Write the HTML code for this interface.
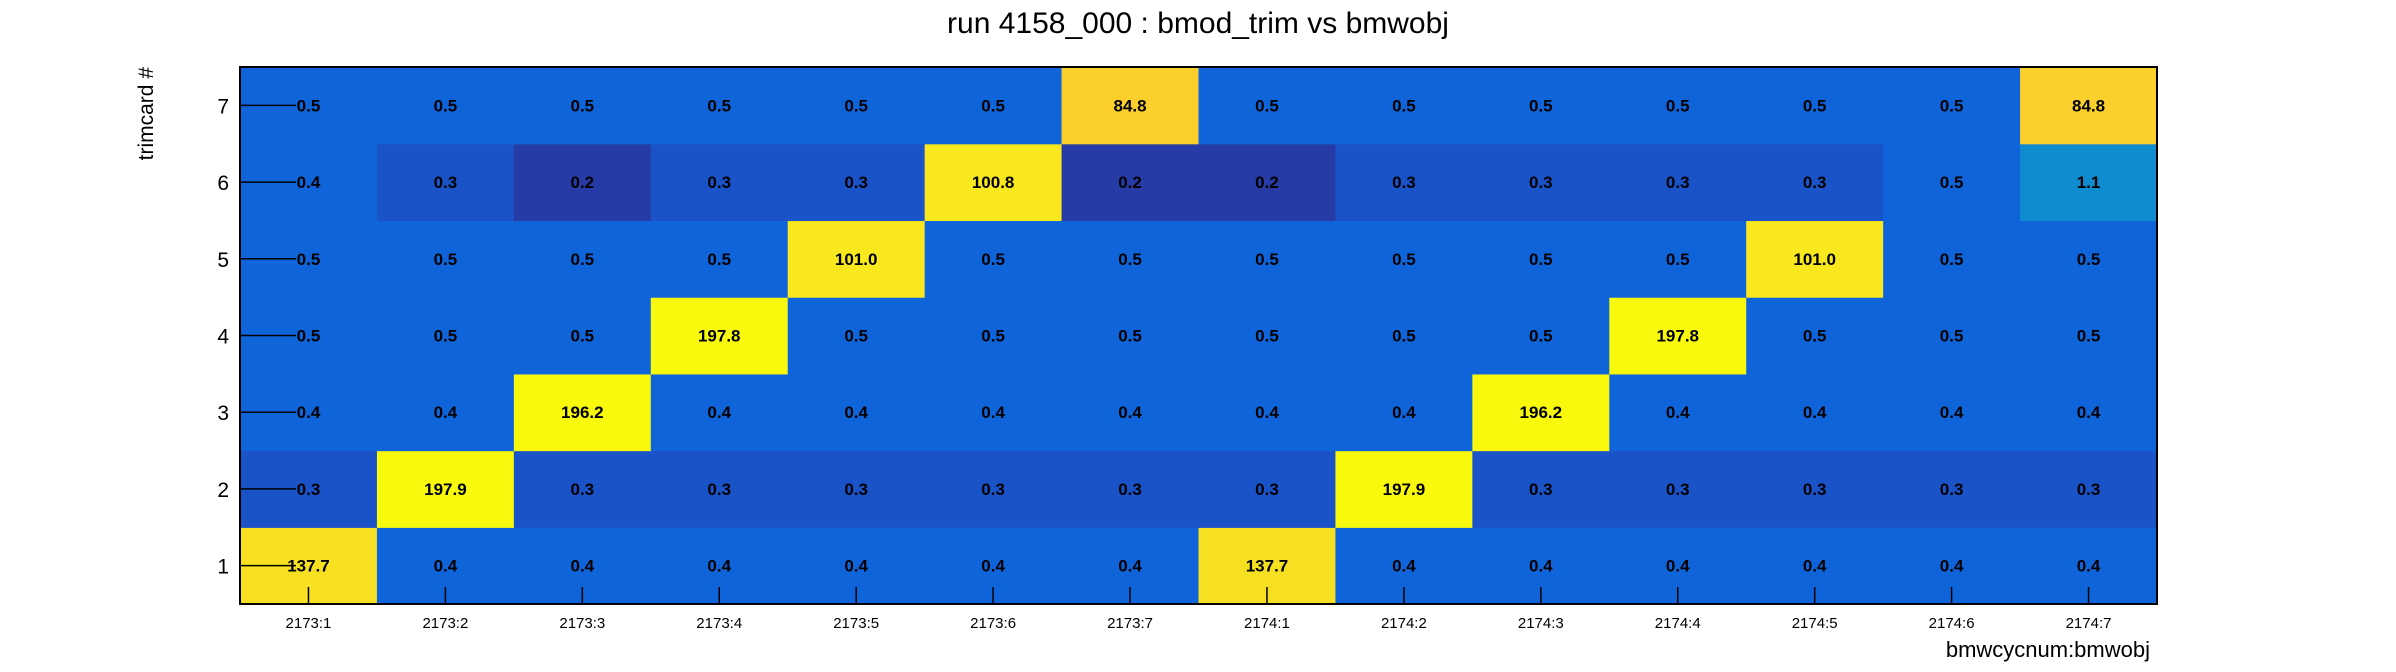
<!DOCTYPE html>
<html><head><meta charset="utf-8">
<style>
html,body{margin:0;padding:0;background:#fff;}
svg{display:block;font-family:"Liberation Sans",Arial,sans-serif;}
</style></head>
<body>
<svg id="chart" width="2396" height="672" viewBox="0 0 2396 672">
<text x="1198" y="33" font-size="30" text-anchor="middle">run 4158_000 : bmod_trim vs bmwobj</text>
<text transform="translate(153,67) rotate(-90)" font-size="21" text-anchor="end">trimcard #</text>
<text x="2150" y="657" font-size="22" text-anchor="end">bmwcycnum:bmwobj</text>
<g id="cells"></g>
<g id="labels"></g>
<g id="axes"></g>
</svg>
<script>
const xCategories = ["2173:1","2173:2","2173:3","2173:4","2173:5","2173:6","2173:7","2174:1","2174:2","2174:3","2174:4","2174:5","2174:6","2174:7"];
const yCategories = ["1","2","3","4","5","6","7"];
const row1 = [137.7,0.4,0.4,0.4,0.4,0.4,0.4,137.7,0.4,0.4,0.4,0.4,0.4,0.4];
const row2 = [0.3,197.9,0.3,0.3,0.3,0.3,0.3,0.3,197.9,0.3,0.3,0.3,0.3,0.3];
const row3 = [0.4,0.4,196.2,0.4,0.4,0.4,0.4,0.4,0.4,196.2,0.4,0.4,0.4,0.4];
const row4 = [0.5,0.5,0.5,197.8,0.5,0.5,0.5,0.5,0.5,0.5,197.8,0.5,0.5,0.5];
const row5 = [0.5,0.5,0.5,0.5,101.0,0.5,0.5,0.5,0.5,0.5,0.5,101.0,0.5,0.5];
const row6 = [0.4,0.3,0.2,0.3,0.3,100.8,0.2,0.2,0.3,0.3,0.3,0.3,0.5,1.1];
const row7 = [0.5,0.5,0.5,0.5,0.5,0.5,84.8,0.5,0.5,0.5,0.5,0.5,0.5,84.8];
const rows = [row1,row2,row3,row4,row5,row6,row7];

const L=240,R=2157,T=67,B=604;
const cw=(R-L)/xCategories.length, ch=(B-T)/yCategories.length;
const xPos=i=>L+i*cw;
const yPos=j=>B-(j+1)*ch;
function color(v){
  if(v>=190) return "#f9f90e";
  if(v>=130) return "#f6e021";
  if(v>=95) return "#f9e81d";
  if(v>=50) return "#fbd02d";
  if(v>=1) return "#0f8bd0";
  if(v>=0.4) return "#1064da";
  if(v>=0.3) return "#1a52c8";
  return "#273ba6";
}
const NS="http://www.w3.org/2000/svg";
const cells=document.getElementById('cells'), labels=document.getElementById('labels'), axes=document.getElementById('axes');
rows.forEach((r,j)=>r.forEach((v,i)=>{
  const rc=document.createElementNS(NS,'rect');
  rc.setAttribute('x',xPos(i));rc.setAttribute('y',yPos(j));
  rc.setAttribute('width',cw+0.6);rc.setAttribute('height',ch+0.6);
  rc.setAttribute('fill',color(v));
  
  
  cells.appendChild(rc);
  const t=document.createElementNS(NS,'text');
  t.setAttribute('x',xPos(i)+cw/2);t.setAttribute('y',yPos(j)+ch/2+6);
  t.setAttribute('font-size','17');t.setAttribute('font-weight','bold');t.setAttribute('text-anchor','middle');
  t.textContent=v.toFixed(1);
  
  
  labels.appendChild(t);
}));
function line(x1,y1,x2,y2,w){const l=document.createElementNS(NS,'line');l.setAttribute('x1',x1);l.setAttribute('y1',y1);l.setAttribute('x2',x2);l.setAttribute('y2',y2);l.setAttribute('stroke','#000');l.setAttribute('stroke-width',w||1.5);axes.appendChild(l);return l;}
const fr=document.createElementNS(NS,'rect');
fr.setAttribute('x',L);fr.setAttribute('y',T);fr.setAttribute('width',R-L);fr.setAttribute('height',B-T);
fr.setAttribute('fill','none');fr.setAttribute('stroke','#000');fr.setAttribute('stroke-width','2');


axes.appendChild(fr);
yCategories.forEach((c,j)=>{
  const y=yPos(j)+ch/2;
  const tk=line(L,y,L+56,y);
  
  
  const t=document.createElementNS(NS,'text');
  t.setAttribute('x',L-11);t.setAttribute('y',y+8);t.setAttribute('font-size','21');t.setAttribute('text-anchor','end');
  t.textContent=c;
  
  
  axes.appendChild(t);
});
xCategories.forEach((c,i)=>{
  const x=xPos(i)+cw/2;
  const tk=line(x,B,x,B-17);
  
  
  const t=document.createElementNS(NS,'text');
  t.setAttribute('x',x);t.setAttribute('y',B+24);t.setAttribute('font-size','15');t.setAttribute('text-anchor','middle');
  t.textContent=c;
  
  
  axes.appendChild(t);
});
</script>
</body></html>
